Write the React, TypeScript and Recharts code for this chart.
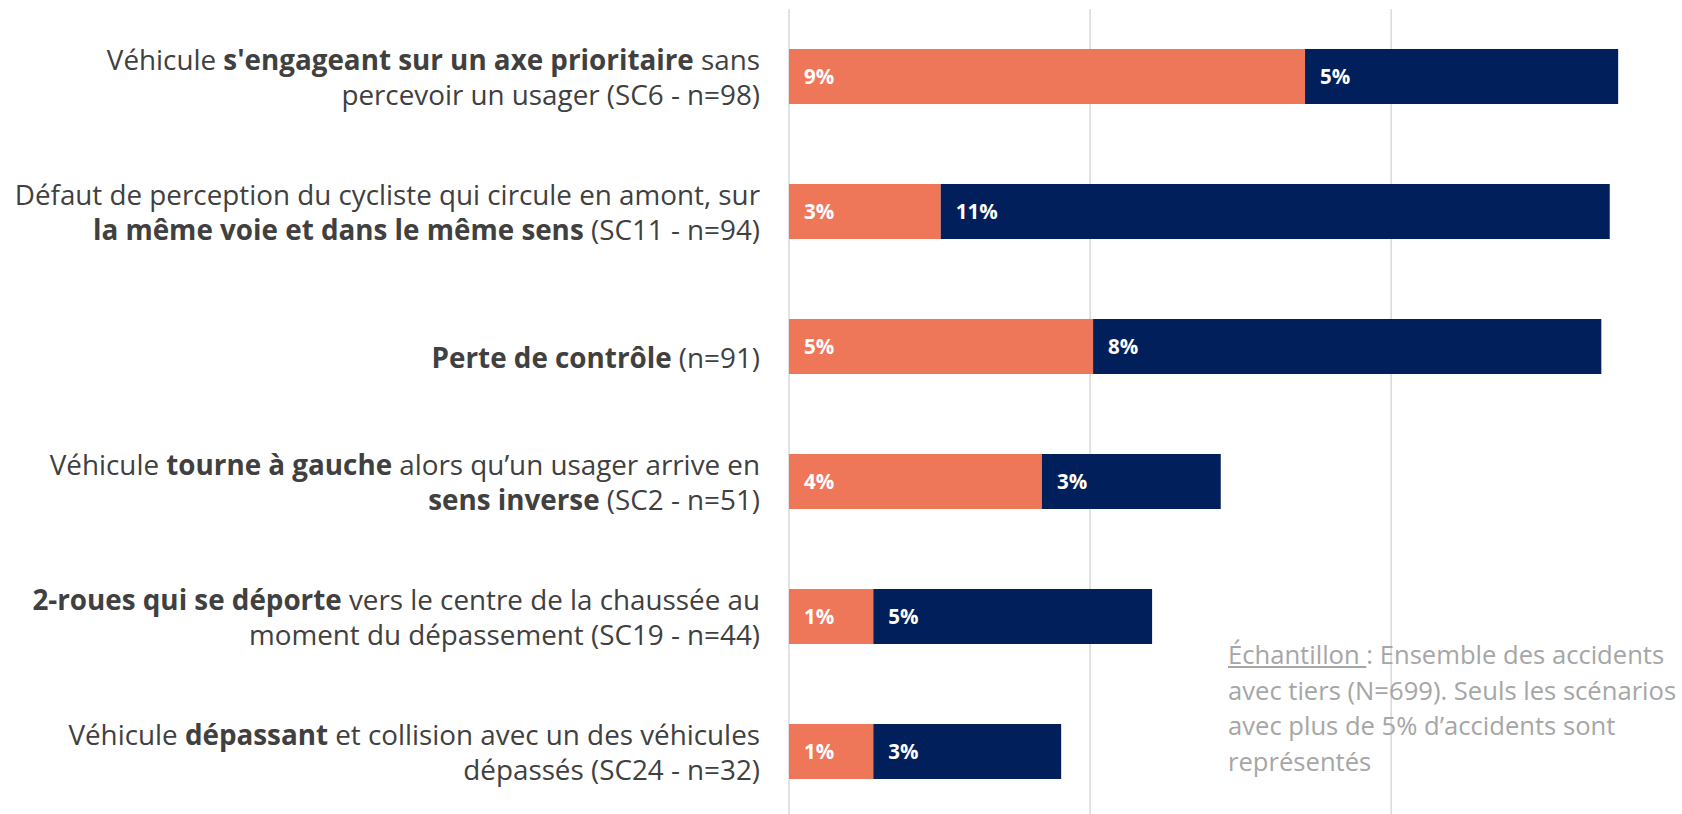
import React from 'react';
import {BarChart, Bar, XAxis, YAxis, CartesianGrid, LabelList} from 'recharts';

// scenario keys (one row each, top to bottom)
const categories = ['SC6', 'SC11', 'PDC', 'SC2', 'SC19', 'SC24'];

// label lines: each segment is [text, bold]
type Seg = [string, boolean];
const labelLines: Seg[][][] = [
    [
        [['Véhicule ', false], ["s'engageant sur un axe prioritaire", true], [' sans', false]],
        [['percevoir un usager (SC6 - n=98)', false]],
    ],
    [
        [['Défaut de perception du cycliste qui circule en amont, sur', false]],
        [['la même voie et dans le même sens', true], [' (SC11 - n=94)', false]],
    ],
    [
        [['Perte de contrôle', true], [' (n=91)', false]],
    ],
    [
        [['Véhicule ', false], ['tourne à gauche', true], [' alors qu’un usager arrive en', false]],
        [['sens inverse', true], [' (SC2 - n=51)', false]],
    ],
    [
        [['2-roues qui se déporte', true], [' vers le centre de la chaussée au', false]],
        [['moment du dépassement (SC19 - n=44)', false]],
    ],
    [
        [['Véhicule ', false], ['dépassant', true], [' et collision avec un des véhicules', false]],
        [['dépassés (SC24 - n=32)', false]],
    ],
];

// stacked segments, in % of accidents
const segmentA = [8.57, 2.52, 5.05, 4.2, 1.4, 1.4];
const segmentB = [5.2, 11.11, 8.44, 2.97, 4.63, 3.12];

const gridTicks = [0, 5, 10];

const noteLines = [
    ': Ensemble des accidents',
    'avec tiers (N=699). Seuls les scénarios',
    'avec plus de 5% d’accidents sont',
    'représentés',
];

const data = categories.map((c, i) => ({name: c, a: segmentA[i], b: segmentB[i]}));

const FONT = '"Open Sans", Lato, sans-serif';

const ScenarioTick = (props: any) => {
    const {x, y, payload} = props;
    const lines = labelLines[payload.index] || [];
    // two-line labels sit around the bar, single ones a bit lower
    const offsets = lines.length === 1 ? [12] : [-16, 19];
    return (
        <text x={x} y={y} textAnchor="end" fill="#404040" fontSize={27.8} fontFamily={FONT} style={{whiteSpace: 'pre'}}>
            {lines.map((line, li) =>
                line.map((seg, si) => (
                    <tspan
                        key={li + '-' + si}
                        x={si === 0 ? x : undefined}
                        y={si === 0 ? y + offsets[li] + 9.5 : undefined}
                        fontWeight={seg[1] ? 700 : 400}
                    >
                        {seg[0]}
                    </tspan>
                ))
            )}
        </text>
    );
};

const pct = (v: any) => `${Math.round(Number(v))}%`;

const App: React.FC = () => (
    <div style={{position: 'absolute', left: 0, top: 0, width: 1682, height: 814, overflow: 'hidden', background: '#fff'}}>
        <BarChart
            width={1682}
            height={824}
            data={data}
            layout="vertical"
            margin={{top: 9, right: 0, left: 0, bottom: 5}}
            barSize={55}
        >
            <CartesianGrid horizontal={false} stroke="#d9d9d9" strokeWidth={1.5} verticalValues={gridTicks}/>
            <XAxis type="number" domain={[0, 14.83]} ticks={gridTicks} hide/>
            <YAxis
                type="category"
                dataKey="name"
                width={789}
                axisLine={false}
                tickLine={false}
                tickSize={0}
                tickMargin={29}
                tick={<ScenarioTick/>}
                interval={0}
            />
            <Bar dataKey="a" stackId="s" fill="#EF7759" isAnimationActive={false}>
                <LabelList dataKey="a" position="insideLeft" offset={15} fill="#fff" fontSize={20.5} fontWeight={700} fontFamily={FONT} formatter={pct}/>
            </Bar>
            <Bar dataKey="b" stackId="s" fill="#001F5B" isAnimationActive={false}>
                <LabelList dataKey="b" position="insideLeft" offset={15} fill="#fff" fontSize={20.5} fontWeight={700} fontFamily={FONT} formatter={pct}/>
            </Bar>
        </BarChart>
        {/* sample note */}
        <div
            style={{
                position: 'absolute',
                left: 1228,
                top: 637,
                fontFamily: FONT,
                fontSize: 25.6,
                lineHeight: '35.5px',
                color: '#a6a6a6',
                whiteSpace: 'nowrap',
            }}
        >
            {noteLines.map((l, i) => (
                <div key={i}>
                    {i === 0 && <span style={{textDecoration: 'underline'}}>Échantillon </span>}
                    {l}
                </div>
            ))}
        </div>
    </div>
);

export default App;
